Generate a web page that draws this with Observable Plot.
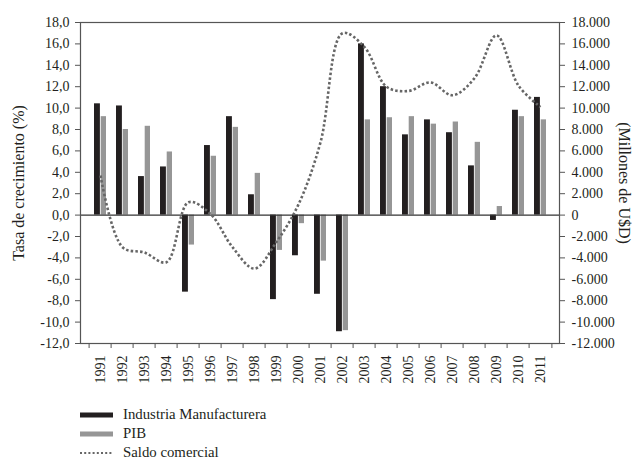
<!DOCTYPE html>
<html>
<head>
<meta charset="utf-8">
<script src="https://cdn.jsdelivr.net/npm/d3@7"></script>
<script src="https://cdn.jsdelivr.net/npm/@observablehq/plot@0.6"></script>
<style>
  html, body { margin: 0; padding: 0; background: #fff; }
  #wrap { width: 635px; height: 462px; position: relative; font-family: "Liberation Serif", "Times New Roman", serif; color: #231f20; }
  .legend { position: absolute; left: 80px; font-size: 14.8px; font-family: "Liberation Serif", "Times New Roman", serif; }
  .row { height: 19px; display: flex; align-items: center; }
  .row svg { margin-right: 10px; }
</style>
</head>
<body>
<div id="wrap"></div>
<script>
const years = [1991,1992,1993,1994,1995,1996,1997,1998,1999,2000,2001,2002,2003,2004,2005,2006,2007,2008,2009,2010,2011];
const industria = [10.4,10.2,3.6,4.5,-7.2,6.5,9.2,1.9,-7.9,-3.8,-7.4,-10.9,16.0,12.0,7.5,8.9,7.7,4.6,-0.5,9.8,11.0];
const pib = [9.2,8.0,8.3,5.9,-2.8,5.5,8.2,3.9,-3.3,-0.8,-4.3,-10.8,8.9,9.1,9.2,8.5,8.7,6.8,0.8,9.2,8.9];
const saldo = [3700,-3000,-3500,-4400,1200,100,-3000,-5000,-2500,1000,6800,17000,15700,12000,11600,12400,11200,12800,16800,12100,10100];
const leftTicks = [-12,-10,-8,-6,-4,-2,0,2,4,6,8,10,12,14,16,18];
const seriesNames = ["Industria Manufacturera","PIB","Saldo comercial"];
const colors = ["#231f20","#969696","#666666"];

const rows = years.map((y,i) => ({year: y, ind: industria[i], pib: pib[i], saldo: saldo[i]}));

const W = 635, H = 395, ML = 80, MR = 76, MT = 22, MB = 52;
const step = (W - ML - MR) / years.length;
const FONT = "'Liberation Serif', 'Times New Roman', serif";

const loc = d3.formatLocale({decimal: ",", thousands: ".", grouping: [3], currency: ["", ""], minus: "-"});
const fmtL = loc.format(".1f");
const fmtR = d => d === 0 ? "0" : loc.format(",")(d * 1000);

const chart = Plot.plot({
  width: W, height: H,
  marginLeft: ML, marginRight: MR, marginTop: MT, marginBottom: MB,
  style: {fontFamily: FONT, fontSize: "14px", color: "#231f20", background: "#fff"},
  x: {type: "band", domain: years, padding: 0},
  y: {domain: [-12, 18]},
  marks: [
    Plot.barY(rows, {x: "year", y: "ind", fill: colors[0], insetLeft: 5, insetRight: step - 11.7}),
    Plot.barY(rows, {x: "year", y: "pib", fill: colors[1], insetLeft: 11.7, insetRight: 5}),
    Plot.ruleY([0], {stroke: "#333", strokeWidth: 1.2}),
    Plot.lineY(rows, {x: "year", y: d => d.saldo / 1000, curve: "catmull-rom", stroke: colors[2], strokeWidth: 2.6, strokeDasharray: "2.5,2.2", strokeLinecap: "butt", strokeLinejoin: "miter"}),
    Plot.frame({stroke: "#555", strokeWidth: 1.2}),
    Plot.axisY(leftTicks, {anchor: "left", tickSize: 5, tickPadding: 6, tickFormat: fmtL, label: null, stroke: "#555"}),
    Plot.axisY(leftTicks, {anchor: "right", tickSize: 5, tickPadding: 7, tickFormat: fmtR, label: null, stroke: "#555"}),
    Plot.ruleX(years, {x: d => d, dx: -step / 2, y1: -12, y2: -12.47, stroke: "#555"}),
    Plot.ruleX([years[years.length - 1]], {x: d => d, dx: step / 2, y1: -12, y2: -12.47, stroke: "#555"}),
    Plot.axisX({tickSize: 0, tickRotate: -90, tickPadding: 12, tickFormat: d => String(d), label: null}),
    Plot.text(["Tasa de crecimiento (%)"], {text: d => d, frameAnchor: "left", textAnchor: "middle", dx: -62, rotate: -90, fontSize: 16}),
    Plot.text(["(Millones de U$D)"], {text: d => d, frameAnchor: "right", textAnchor: "middle", dx: 65, rotate: 90, fontSize: 16})
  ]
});

const wrap = document.getElementById("wrap");
wrap.appendChild(chart);

const legend = document.createElement("div");
legend.className = "legend";
legend.style.top = (H + 10) + "px";
seriesNames.forEach((name, i) => {
  const row = document.createElement("div");
  row.className = "row";
  const sw = i < 2
    ? `<svg width="33" height="8"><rect x="0" y="1.5" width="33" height="5" fill="${colors[i]}"/></svg>`
    : `<svg width="33" height="8"><line x1="0" y1="4" x2="33" y2="4" stroke="${colors[i]}" stroke-width="2" stroke-dasharray="2,2.2"/></svg>`;
  row.innerHTML = sw + `<span>${name}</span>`;
  legend.appendChild(row);
});
wrap.appendChild(legend);
</script>
</body>
</html>
